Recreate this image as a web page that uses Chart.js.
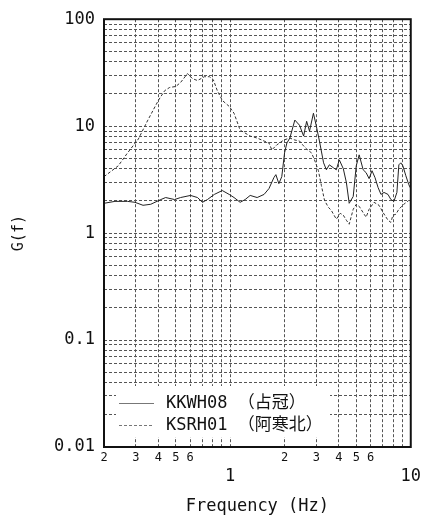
<!DOCTYPE html>
<html><head><meta charset="utf-8">
<script src="https://cdn.jsdelivr.net/npm/chart.js@4.4.0/dist/chart.umd.min.js"></script>
<style>html,body{margin:0;padding:0;background:#fff;}canvas{display:block;}</style>
</head><body>
<canvas id="c" width="425" height="524"></canvas>
<script>
const seriesNames = ['KKWH08 （占冠）', 'KSRH01 （阿寒北）'];

const freqA = [0.2,0.23,0.27,0.297,0.329,0.363,0.413,0.439,0.492,0.531,0.603,0.659,0.702,0.748,0.817,0.904,0.987,1.05,1.135,1.21,1.29,1.41,1.54,1.64,1.745,1.79,1.86,1.93,2.0,2.06,2.14,2.28,2.42,2.55,2.65,2.75,2.89,3.0,3.12,3.29,3.41,3.54,3.73,3.87,4.02,4.23,4.40,4.56,4.80,4.99,5.18,5.45,5.66,5.88,6.1,6.34,6.59,6.84,7.11,7.48,7.76,8.07,8.38,8.59,8.81,9.04,9.39,9.75,10.0];
const gA = [1.90,1.98,1.98,1.94,1.82,1.86,2.06,2.15,2.06,2.15,2.25,2.15,1.94,2.06,2.30,2.50,2.30,2.15,1.94,2.06,2.25,2.15,2.30,2.61,3.30,3.52,2.90,3.37,5.62,6.96,7.74,11.4,10.2,8.08,11.1,8.99,13.2,10.0,7.26,4.54,3.91,4.35,4.08,3.91,4.84,4.00,2.97,1.90,2.20,4.26,5.39,3.91,3.67,3.23,3.83,3.30,2.67,2.30,2.40,2.30,2.06,1.98,2.40,4.35,4.54,4.26,3.44,2.84,2.61];

const freqB = [0.2,0.24,0.27,0.31,0.35,0.40,0.434,0.462,0.50,0.531,0.58,0.618,0.659,0.72,0.767,0.806,0.848,0.904,0.987,1.05,1.135,1.29,1.41,1.54,1.64,1.70,1.81,1.98,2.14,2.28,2.42,2.55,2.65,2.82,2.93,3.08,3.20,3.33,3.50,3.63,3.87,4.07,4.23,4.40,4.56,4.80,4.99,5.18,5.52,5.66,5.88,6.26,6.67,7.02,7.48,7.76,7.96,8.27,8.59,9.15,9.75];
const gB = [3.37,4.26,5.62,7.58,11.4,17.4,21.5,23.0,23.5,25.6,31.0,27.8,26.7,29.0,29.0,27.2,21.5,17.4,15.3,13.2,9.18,8.08,7.74,7.26,6.96,6.00,6.67,7.42,7.74,7.42,7.26,6.53,6.12,5.62,4.84,3.83,2.78,2.02,1.74,1.63,1.35,1.53,1.47,1.32,1.21,1.67,1.86,1.78,1.50,1.41,1.67,1.94,1.82,1.56,1.32,1.26,1.47,1.50,1.67,1.86,2.02];

const yTickLabels = ['0.01','0.1','1','10','100'];
const xMinorLabels = ['2','3','4','5','6'];
const xMajorLabels = ['1','10'];
const xTitle = 'Frequency (Hz)';
const yTitle = 'G(f)';

const MONO = "'DejaVu Sans Mono','Noto Sans CJK JP',monospace";

function gridValues(lo, hi) {
  const out = [];
  for (let e = Math.round(Math.log10(lo)) - 1; e <= Math.round(Math.log10(hi)); e++) {
    for (let m = 1; m <= 9; m++) {
      const v = parseFloat((m * Math.pow(10, e)).toPrecision(6));
      if (v >= lo - 1e-9 && v <= hi + 1e-9) out.push(v);
    }
  }
  return out;
}
const xGrid = gridValues(0.2, 10);
const yGrid = gridValues(0.01, 100);
function isPow10(v) { const l = Math.log10(v); return Math.abs(l - Math.round(l)) < 1e-6; }
function fmt(v) { return String(parseFloat(v.toPrecision(6))); }
function lead(v) { return String(Math.round(v / Math.pow(10, Math.floor(Math.log10(v) + 1e-9)))); }

const framePlugin = {
  id: 'frameLegend',
  afterDatasetsDraw(chart) {
    const {ctx, chartArea: a} = chart;
    ctx.save();
    ctx.fillStyle = '#fff';
    ctx.fillRect(a.left + 12, a.bottom - 61, 214, 51);
    const rows = [a.bottom - 44, a.bottom - 22];
    ctx.strokeStyle = '#777';
    ctx.lineWidth = 1;
    rows.forEach((y, i) => {
      ctx.beginPath();
      ctx.setLineDash(i === 0 ? [] : [3, 2]);
      ctx.moveTo(a.left + 15, y + 0.5);
      ctx.lineTo(a.left + 50, y + 0.5);
      ctx.stroke();
    });
    ctx.setLineDash([]);
    ctx.fillStyle = '#111';
    ctx.font = "17px " + MONO;
    ctx.textBaseline = 'middle';
    ctx.textAlign = 'left';
    rows.forEach((y, i) => ctx.fillText(seriesNames[i], a.left + 62, y + 1));
    ctx.strokeStyle = '#111';
    ctx.lineWidth = 2;
    ctx.strokeRect(a.left, a.top, a.right - a.left, a.bottom - a.top);
    ctx.restore();
  }
};

new Chart(document.getElementById('c'), {
  type: 'line',
  data: {
    datasets: [
      { label: seriesNames[0], data: freqA.map((f, i) => ({x: f, y: gA[i]})),
        borderColor: '#222', borderWidth: 1, pointRadius: 0, fill: false, tension: 0 },
      { label: seriesNames[1], data: freqB.map((f, i) => ({x: f, y: gB[i]})),
        borderColor: '#333', borderWidth: 1, borderDash: [3, 2], pointRadius: 0, fill: false, tension: 0 }
    ]
  },
  options: {
    responsive: false,
    animation: false,
    devicePixelRatio: 1,
    layout: { padding: { top: 15, right: 10, bottom: 0, left: 0 } },
    plugins: { legend: { display: false }, tooltip: { enabled: false } },
    scales: {
      x: {
        type: 'logarithmic', min: 0.2, max: 10,
        afterBuildTicks: s => { s.ticks = xGrid.map(v => ({value: v, major: isPow10(v)})); },
        afterFit: s => { s.height = 77; },
        grid: { color: '#555', lineWidth: 1, drawTicks: false },
        border: { display: false, dash: [3, 2] },
        ticks: {
          autoSkip: false, maxRotation: 0, padding: 4, color: '#111',
          font: c => (c.tick && isPow10(c.tick.value)) ? {family: MONO, size: 17, lineHeight: 1.0} : {family: MONO, size: 12, lineHeight: 1.1},
          callback: v => {
            if (isPow10(v)) { const s = fmt(v); return xMajorLabels.includes(s) ? ['', s] : ''; }
            const d = lead(v); return xMinorLabels.includes(d) ? d : '';
          }
        },
        title: { display: true, text: xTitle, color: '#111', font: {family: MONO, size: 17}, padding: {top: 0, bottom: 7} }
      },
      y: {
        type: 'logarithmic', min: 0.01, max: 100,
        afterBuildTicks: s => { s.ticks = yGrid.map(v => ({value: v, major: isPow10(v)})); },
        afterFit: s => { s.width = 104; },
        grid: { color: '#555', lineWidth: 1, drawTicks: false },
        border: { display: false, dash: [3, 2] },
        ticks: {
          autoSkip: false, padding: 9, color: '#111',
          font: {family: MONO, size: 17},
          callback: v => { const s = fmt(v); return (isPow10(v) && yTickLabels.includes(s)) ? s : ''; }
        },
        title: { display: true, text: yTitle, color: '#111', font: {family: MONO, size: 15}, padding: {top: 10, bottom: 0} }
      }
    }
  },
  plugins: [framePlugin]
});
</script>
</body></html>
